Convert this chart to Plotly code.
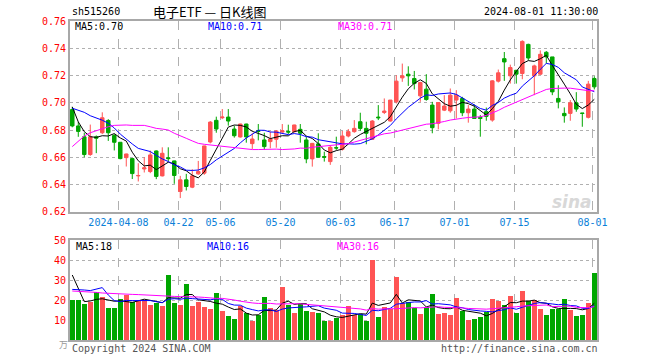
import numpy as np
import pandas as pd
import plotly.graph_objects as go

# ---------------- data ----------------
holidays = ["2024-04-04", "2024-04-05", "2024-05-01", "2024-05-02", "2024-05-03", "2024-06-10"]
dates = [d.strftime("%Y-%m-%d") for d in pd.bdate_range("2024-03-25", "2024-08-01")
         if d.strftime("%Y-%m-%d") not in holidays]

opens = [0.695, 0.683, 0.675, 0.662, 0.675, 0.678, 0.687, 0.676, 0.671, 0.6597,
         0.659, 0.6463, 0.6514, 0.6495, 0.6646, 0.6463, 0.6596, 0.6573, 0.6349, 0.6434,
         0.638, 0.6478, 0.6483, 0.6712, 0.6871, 0.689, 0.6895, 0.6807, 0.6749, 0.6844,
         0.670, 0.6795, 0.6727, 0.6715, 0.6732, 0.6785, 0.679, 0.6788, 0.6805, 0.6727,
         0.6588, 0.6698, 0.6605, 0.6568, 0.667, 0.6658, 0.6756, 0.6788, 0.6861, 0.6812,
         0.6732, 0.6895, 0.6929, 0.6866, 0.7007, 0.7183, 0.721, 0.7178, 0.7051, 0.710,
         0.6983, 0.6849, 0.6946, 0.6941, 0.702, 0.7032, 0.6927, 0.6954, 0.6893, 0.6935,
         0.6873, 0.7159, 0.7324, 0.7198, 0.7239, 0.7215, 0.7429, 0.7198, 0.721, 0.7371,
         0.7337, 0.7032, 0.6922, 0.6922, 0.700, 0.6925, 0.6893, 0.7178]
highs = [0.697, 0.686, 0.678, 0.684, 0.676, 0.693, 0.688, 0.677, 0.671, 0.6626,
         0.659, 0.6556, 0.660, 0.6649, 0.665, 0.6673, 0.6673, 0.6575, 0.6463, 0.6478,
         0.6512, 0.6573, 0.6685, 0.6866, 0.6898, 0.6954, 0.6954, 0.6832, 0.6846, 0.6846,
         0.6776, 0.6844, 0.678, 0.6788, 0.680, 0.6844, 0.6839, 0.6839, 0.6844, 0.6751,
         0.6705, 0.6776, 0.6641, 0.6683, 0.6751, 0.6793, 0.6807, 0.6873, 0.6927, 0.6861,
         0.6873, 0.6983, 0.7032, 0.702, 0.7202, 0.7288, 0.7268, 0.7234, 0.7154, 0.721,
         0.7007, 0.7005, 0.7056, 0.7105, 0.7093, 0.7044, 0.6983, 0.6988, 0.691, 0.6965,
         0.7166, 0.7244, 0.7373, 0.728, 0.724, 0.7459, 0.7434, 0.728, 0.7385, 0.738,
         0.7337, 0.7129, 0.6966, 0.702, 0.7078, 0.6925, 0.7161, 0.7195]
lows = [0.682, 0.675, 0.660, 0.661, 0.663, 0.677, 0.672, 0.665, 0.6585, 0.6532,
        0.644, 0.6422, 0.6488, 0.6483, 0.6439, 0.6459, 0.6568, 0.6405, 0.630, 0.6356,
        0.6373, 0.6471, 0.6471, 0.6702, 0.678, 0.688, 0.6832, 0.6744, 0.6744, 0.6707,
        0.6661, 0.6724, 0.6654, 0.6666, 0.667, 0.678, 0.677, 0.678, 0.6707, 0.6556,
        0.6531, 0.6598, 0.6568, 0.6544, 0.6654, 0.6649, 0.6746, 0.678, 0.6795, 0.6695,
        0.6727, 0.6873, 0.6917, 0.6861, 0.6995, 0.7154, 0.7124, 0.7098, 0.7007, 0.7015,
        0.6776, 0.6805, 0.6939, 0.6927, 0.6885, 0.6902, 0.6854, 0.6885, 0.6751, 0.6868,
        0.6861, 0.7149, 0.7161, 0.7141, 0.7141, 0.7173, 0.7312, 0.7056, 0.7205, 0.7288,
        0.7056, 0.6959, 0.6854, 0.6868, 0.6934, 0.6824, 0.6885, 0.7098]
closes = [0.683, 0.679, 0.662, 0.675, 0.674, 0.689, 0.678, 0.671, 0.659, 0.6624,
          0.648, 0.6466, 0.6522, 0.6617, 0.6459, 0.6629, 0.659, 0.6466, 0.6434, 0.6385,
          0.6463, 0.6495, 0.6683, 0.6858, 0.6807, 0.6895, 0.6866, 0.6758, 0.6844, 0.6749,
          0.6734, 0.679, 0.6678, 0.6734, 0.6793, 0.6795, 0.6785, 0.6837, 0.6776, 0.6588,
          0.6702, 0.660, 0.660, 0.6673, 0.6668, 0.6756, 0.6788, 0.6812, 0.6812, 0.6776,
          0.6866, 0.689, 0.6939, 0.702, 0.7159, 0.7198, 0.7198, 0.7141, 0.7149, 0.7024,
          0.6817, 0.7002, 0.6976, 0.7056, 0.7056, 0.6927, 0.6954, 0.6885, 0.6885, 0.690,
          0.7161, 0.722, 0.730, 0.7259, 0.721, 0.7451, 0.7329, 0.7271, 0.7356, 0.7337,
          0.708, 0.7007, 0.6905, 0.700, 0.6954, 0.6922, 0.7137, 0.7117]
volumes = [20, 20, 18.2, 19.2, 24.2, 21.5, 16, 16, 20.3, 22.5,
           19.2, 20, 20, 17.5, 18.7, 17, 32.5, 18.7, 17.5, 28,
           17, 19.2, 16.7, 15.5, 23.7, 14.5, 12, 10.5, 17, 13.3,
           9.7, 12.5, 21.7, 16.2, 15, 26.7, 17.5, 13.7, 18, 14.7,
           14.2, 13.7, 9.7, 9.7, 10.8, 12.5, 17, 12.5, 13, 9.7,
           40, 11.3, 16.3, 15.3, 31.3, 18.3, 19.2, 15.8, 13, 16.3,
           23, 13, 13.3, 12.5, 20.8, 14.7, 10, 10.3, 11.3, 14.2,
           20.5, 19.5, 17.5, 22, 13.7, 24.5, 19.5, 20, 15.5, 12.5,
           15.5, 15.5, 20.5, 15, 12, 12.5, 18.7, 33.7]

# moving-average values at the start of the window (history before the first candle)
ma5_head = [0.697, 0.686, 0.6788, 0.6751]
ma10_head = [0.696, 0.6945, 0.693, 0.6905, 0.689, 0.6872, 0.685, 0.6815, 0.677]
ma30_head = [0.6678, 0.672, 0.6756, 0.678, 0.6795, 0.6812, 0.6824, 0.6834, 0.6837, 0.6837,
             0.6834, 0.6834, 0.6834, 0.6824, 0.6812, 0.6807, 0.680, 0.6776, 0.676, 0.6739,
             0.672, 0.6702, 0.6695, 0.669, 0.6685, 0.6683, 0.6678, 0.6671, 0.6666]
vma5_head = [32.5, 25.8, 19.2, 19.5]
vma10_head = [25.3, 25.3, 25.0, 24.7, 25.3, 26.2, 22.5, 19.7, 19.2]
vma30_head = [24.5, 24.4, 24.3, 24.0, 23.8, 23.5, 23.3, 23.2, 23.0, 23.0,
              22.8, 22.7, 22.5, 22.5, 22.3, 22.0, 21.8, 21.8, 21.7, 21.7,
              21.6, 21.5, 21.3, 21.0, 20.8, 20.8, 20.5, 20.0, 19.4]

tick_dates = ["2024-04-08", "2024-04-22", "2024-05-06", "2024-05-20", "2024-06-03",
              "2024-06-17", "2024-07-01", "2024-07-15", "2024-08-01"]
tick_labels = ["2024-04-08", "04-22", "05-06", "05-20", "06-03", "06-17", "07-01", "07-15", "08-01"]
price_ticks = [0.62, 0.64, 0.66, 0.68, 0.70, 0.72, 0.74, 0.76]
vol_ticks = [10, 20, 30, 40, 50]

# ---------------- helpers ----------------
assert len(dates) == len(opens) == len(closes) == len(volumes)
n = len(dates)
x = np.arange(n)


def ma(values, w, head):
    s = pd.Series(values, dtype=float).rolling(w).mean().to_numpy()
    s[:len(head)] = head
    return s


RED = "#ff5454"
GREEN = "#00a600"
MONO = "DejaVu Sans Mono"
W, H = 660, 360


def fx(p):
    return p / W


def fy(p):
    return 1 - p / H


tickpos = [dates.index(d) - 0.3 for d in tick_dates]
vol_colors = [RED if c > o else GREEN for o, c in zip(opens, closes)]

fig = go.Figure()
fig.add_trace(go.Candlestick(
    x=x, open=opens, high=highs, low=lows, close=closes,
    increasing=dict(line=dict(color=RED, width=1), fillcolor=RED),
    decreasing=dict(line=dict(color=GREEN, width=1), fillcolor=GREEN),
    whiskerwidth=0, xaxis="x", yaxis="y", showlegend=False))
for w, head, col in [(5, ma5_head, "#000000"), (10, ma10_head, "#0000ff"), (30, ma30_head, "#ff00ff")]:
    fig.add_trace(go.Scatter(x=x, y=ma(closes, w, head), mode="lines",
                             line=dict(color=col, width=1), xaxis="x", yaxis="y", showlegend=False))

fig.add_trace(go.Bar(x=x, y=volumes, marker=dict(color=vol_colors, line=dict(width=0)),
                     width=0.82, xaxis="x2", yaxis="y2", showlegend=False))
for w, head, col in [(5, vma5_head, "#000000"), (10, vma10_head, "#0000ff"), (30, vma30_head, "#ff00ff")]:
    fig.add_trace(go.Scatter(x=x, y=ma(volumes, w, head), mode="lines",
                             line=dict(color=col, width=1), xaxis="x2", yaxis="y2", showlegend=False))

frame = dict(showline=True, mirror=True, linecolor="#a8a8a8", linewidth=2, zeroline=False,
             ticks="", automargin=False)
xr = [-0.38, 87.45]
xdom = [fx(70), fx(597)]

fig.update_layout(
    width=W, height=H, autosize=False,
    margin=dict(l=0, r=0, t=0, b=0, pad=0, autoexpand=False),
    paper_bgcolor="white", plot_bgcolor="white",
    boxgap=0.17, bargap=0, hovermode=False,
    font=dict(family=MONO, size=10, color="#000"),
    xaxis=dict(domain=xdom, range=xr, anchor="y", tickvals=tickpos, ticktext=tick_labels,
               tickfont=dict(family=MONO, size=10, color="#0a80d8"),
               showgrid=True, gridcolor="#b0b0b0", griddash="dash", gridwidth=1,
               rangeslider=dict(visible=False), **frame),
    yaxis=dict(domain=[fy(211.7), fy(21.1)], range=[0.62, 0.76], anchor="x",
               tickvals=price_ticks, tickformat=".2f",
               tickfont=dict(family=MONO, size=10, color="#ff0000"),
               showgrid=True, gridcolor="#b0b0b0", griddash="dot", gridwidth=1, **frame),
    xaxis2=dict(domain=xdom, range=xr, anchor="y2", matches="x", tickvals=tickpos,
                showticklabels=False, showgrid=True, gridcolor="#b0b0b0", griddash="dash",
                gridwidth=1, **frame),
    yaxis2=dict(domain=[fy(340), fy(240)], range=[0, 50], anchor="x2",
                tickvals=vol_ticks, tickfont=dict(family=MONO, size=10, color="#ff0000"),
                showgrid=True, gridcolor="#b0b0b0", griddash="dot", gridwidth=1, **frame),
)


def label(text, px, py, color="#000", size=10, anchor="left", family=MONO, **kw):
    fig.add_annotation(text=text, x=fx(px), y=fy(py), xref="paper", yref="paper",
                       xanchor=anchor, yanchor="middle", showarrow=False,
                       font=dict(family=family, size=size, color=color, **kw))


label("sh515260", 70, 12)
label("电子ETF — 日K线图", 151, 12, size=13, family="Noto Sans CJK SC")
label("2024-08-01 11:30:00", 600, 12, anchor="right")
label("MA5:0.70", 73, 27)
label("MA10:0.71", 206, 27, color="#0000ff")
label("MA30:0.71", 336, 27, color="#ff00ff")
label("MA5:18", 74, 246)
label("MA10:16", 205, 246, color="#0000ff")
label("MA30:16", 335, 246, color="#ff00ff")
label("Copyright 2024 SINA.COM", 70, 348, color="#555555")
label("http://finance.sina.com.cn", 600, 348, color="#555555", anchor="right")
label("万", 57, 344, color="#999999", size=9, family="Noto Sans CJK SC")
label("sina", 594, 202, color="#d8d8d8", size=17, anchor="right", family="DejaVu Sans",
      weight="bold", style="italic")

fig.write_html("out.html", config={"displayModeBar": False, "staticPlot": True},
               post_script="document.body.style.margin='0';document.body.style.padding='0';")
